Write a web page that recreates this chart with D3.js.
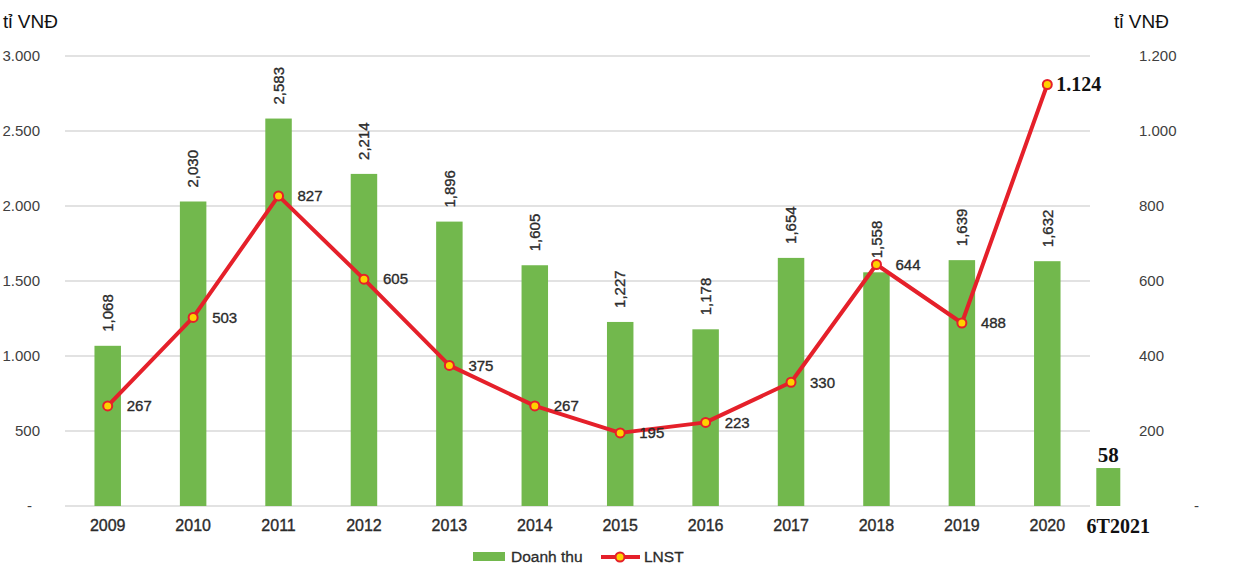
<!DOCTYPE html>
<html>
<head>
<meta charset="utf-8">
<script src="https://cdn.jsdelivr.net/npm/d3@7"></script>
<style>
  html, body { margin: 0; padding: 0; background: #fff; }
  svg { display: block; font-family: Arial, "Liberation Sans", sans-serif; }
</style>
</head>
<body>
<svg id="chart" width="1260" height="573"></svg>
<script>
// ---- data ----
const years = ["2009","2010","2011","2012","2013","2014","2015","2016","2017","2018","2019","2020"];
const doanhThu = [1068, 2030, 2583, 2214, 1896, 1605, 1227, 1178, 1654, 1558, 1639, 1632];
const lnst = [267, 503, 827, 605, 375, 267, 195, 223, 330, 644, 488, 1124];
const extraCategory = "6T2021";
const extraBarValue = 253;      // bar height as read on the left axis
const extraBarLabel = "58";
const leftTicks = [0, 500, 1000, 1500, 2000, 2500, 3000];
const rightTicks = [0, 200, 400, 600, 800, 1000, 1200];
const unitLabel = "tỉ VNĐ";
const legendLabels = ["Doanh thu", "LNST"];

// ---- layout ----
const svg = d3.select("#chart");
const pLeft = 65, pRight = 1090, pTop = 56, pBottom = 506;
const green = "#72b84d", red = "#e5202a", yellow = "#ffd100", grid = "#d9d9d9", txt = "#2b2b2b";

const x = d3.scaleBand().domain(years).range([pLeft, pRight]).paddingInner(0.69).paddingOuter(0.345);
const yL = d3.scaleLinear().domain([0, 3000]).range([pBottom, pTop]);
const yR = d3.scaleLinear().domain([0, 1200]).range([pBottom, pTop]);
const cx = d => x(d) + x.bandwidth() / 2;

const fmtAxis = v => v === 0 ? "-" : d3.format(",")(v).replace(/,/g, ".");

// gridlines
svg.append("g").selectAll("line").data(leftTicks).join("line")
  .attr("x1", pLeft).attr("x2", pRight)
  .attr("y1", d => yL(d)).attr("y2", d => yL(d))
  .attr("stroke", grid).attr("stroke-width", 1.6);

// left axis
const gL = svg.append("g").attr("transform", "translate(40,0)")
  .call(d3.axisLeft(yL).tickValues(leftTicks).tickFormat(fmtAxis).tickSize(0).tickPadding(0));
gL.select(".domain").remove();
gL.selectAll("text").attr("font-size", 15).attr("fill", "#404040")
  .attr("font-family", "Arial, 'Liberation Sans', sans-serif")
  .attr("dx", d => d === 0 ? -8 : 0);

// right axis
const gR = svg.append("g").attr("transform", "translate(1139,0)")
  .call(d3.axisRight(yR).tickValues(rightTicks).tickFormat(fmtAxis).tickSize(0).tickPadding(0));
gR.select(".domain").remove();
gR.selectAll("text").attr("font-size", 15).attr("fill", "#404040")
  .attr("font-family", "Arial, 'Liberation Sans', sans-serif")
  .attr("dx", d => d === 0 ? 55 : 0);

// unit titles
svg.append("text").attr("x", 3).attr("y", 28).attr("font-size", 19).attr("fill", "#111").text(unitLabel);
svg.append("text").attr("x", 1114).attr("y", 28).attr("font-size", 19).attr("fill", "#111").text(unitLabel);

// bars
svg.append("g").selectAll("rect").data(years).join("rect")
  .attr("x", d => x(d)).attr("width", x.bandwidth())
  .attr("y", (d, i) => yL(doanhThu[i]))
  .attr("height", (d, i) => yL(0) - yL(doanhThu[i]))
  .attr("fill", green);

// extra 6T2021 bar
const exCx = cx("2020") + 61, exW = 24;
svg.append("rect").attr("x", exCx - exW / 2).attr("width", exW)
  .attr("y", yL(extraBarValue)).attr("height", yL(0) - yL(extraBarValue)).attr("fill", green);
svg.append("text").attr("x", exCx).attr("y", yL(extraBarValue) - 6).attr("text-anchor", "middle")
  .attr("font-family", "'Liberation Serif', 'Times New Roman', serif").attr("font-weight", "bold")
  .attr("font-size", 21).attr("fill", "#111").text(extraBarLabel);

// bar labels (rotated)
svg.append("g").selectAll("text").data(years).join("text")
  .attr("transform", (d, i) => `translate(${cx(d)},${yL(doanhThu[i]) - 14}) rotate(-90)`)
  .attr("dy", "0.35em").attr("text-anchor", "start")
  .attr("font-size", 15).attr("fill", txt).attr("stroke", txt).attr("stroke-width", 0.35)
  .text((d, i) => d3.format(",")(doanhThu[i]));

// x labels
svg.append("g").selectAll("text").data(years).join("text")
  .attr("x", d => cx(d)).attr("y", 531).attr("text-anchor", "middle")
  .attr("font-size", 16).attr("fill", txt).attr("stroke", txt).attr("stroke-width", 0.35).text(d => d);
svg.append("text").attr("x", exCx + 10).attr("y", 533).attr("text-anchor", "middle")
  .attr("font-family", "'Liberation Serif', 'Times New Roman', serif").attr("font-weight", "bold")
  .attr("font-size", 20).attr("fill", "#111").text(extraCategory);

// line
const line = d3.line().x((d, i) => cx(years[i])).y(d => yR(d));
svg.append("path").datum(lnst).attr("d", line)
  .attr("fill", "none").attr("stroke", red).attr("stroke-width", 4).attr("stroke-linejoin", "round");
svg.append("g").selectAll("circle").data(lnst).join("circle")
  .attr("cx", (d, i) => cx(years[i])).attr("cy", d => yR(d)).attr("r", 4.5)
  .attr("fill", yellow).attr("stroke", red).attr("stroke-width", 2);

// line labels
const last = lnst.length - 1;
svg.append("g").selectAll("text").data(lnst).join("text")
  .attr("x", (d, i) => cx(years[i]) + (i === last ? 9 : 19))
  .attr("y", (d, i) => yR(d) + (i === last ? 6 : 0))
  .attr("dy", (d, i) => i === last ? 0 : "0.35em")
  .attr("font-size", (d, i) => i === last ? 20 : 15)
  .attr("font-family", (d, i) => i === last ? "'Liberation Serif', 'Times New Roman', serif" : "Arial, 'Liberation Sans', sans-serif")
  .attr("font-weight", (d, i) => i === last ? "bold" : "normal")
  .attr("fill", (d, i) => i === last ? "#111" : txt)
  .attr("stroke", (d, i) => i === last ? "none" : txt).attr("stroke-width", 0.35)
  .text(d => d3.format(",")(d).replace(/,/g, "."));

// legend
const lg = svg.append("g");
lg.append("rect").attr("x", 473).attr("y", 552).attr("width", 32).attr("height", 9).attr("fill", green);
lg.append("text").attr("x", 511).attr("y", 557).attr("dy", "0.35em").attr("font-size", 15.5).attr("fill", txt).attr("stroke", txt).attr("stroke-width", 0.3).text(legendLabels[0]);
lg.append("line").attr("x1", 601).attr("x2", 640).attr("y1", 557).attr("y2", 557).attr("stroke", red).attr("stroke-width", 4);
lg.append("circle").attr("cx", 620).attr("cy", 557).attr("r", 4.5).attr("fill", yellow).attr("stroke", red).attr("stroke-width", 2);
lg.append("text").attr("x", 644).attr("y", 557).attr("dy", "0.35em").attr("font-size", 15.5).attr("fill", txt).attr("stroke", txt).attr("stroke-width", 0.3).text(legendLabels[1]);
</script>
</body>
</html>
